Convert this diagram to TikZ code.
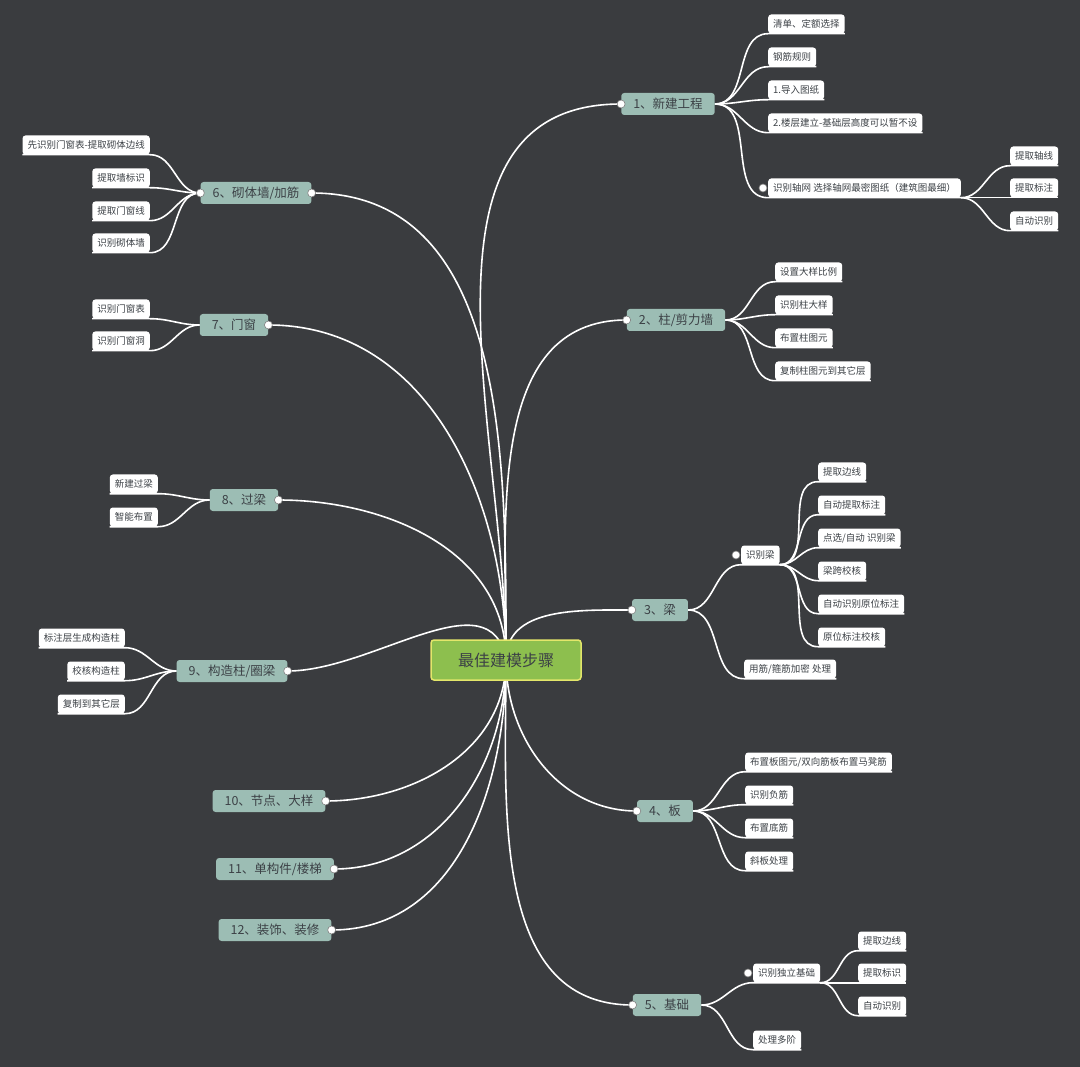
\documentclass[tikz,border=0pt]{standalone}
\usepackage{fontspec}
\setmainfont{Noto Sans CJK SC}
\usetikzlibrary{backgrounds}
\definecolor{bg}{HTML}{3A3C3F}
\definecolor{lone}{HTML}{9CBDB4}
\definecolor{rootg}{HTML}{8DBF4E}
\definecolor{rootb}{HTML}{E3E66A}
\definecolor{tx}{HTML}{3C4146}
\begin{document}
\begin{tikzpicture}[x=1pt,y=-1pt,
  root/.style={draw=rootb,line width=1.5pt,fill=rootg,rounded corners=3pt,minimum width=150pt,minimum height=40pt,font=\fontsize{16}{18}\selectfont,text=tx},
  one/.style={fill=lone,rounded corners=3pt,minimum height=22pt,inner xsep=12pt,font=\fontsize{12.5}{14}\selectfont,text=tx},
  leaf/.style={fill=white,rounded corners=3pt,minimum height=19pt,inner xsep=5pt,inner ysep=0pt,font=\fontsize{9.5}{11}\selectfont,text=tx},
  br/.style={white,line width=1.6pt},
  dot/.style={circle,fill=white,draw=gray,line width=0.6pt,inner sep=0pt,minimum size=8pt}]
\useasboundingbox (0,0) rectangle (1080,1067);
\node[root] (r) at (506,660) {最佳建模步骤};
\node[one] (n1) at (668,104) {1、新建工程};
\node[one] (n2) at (676,320) {2、柱/剪力墙};
\node[one] (n3) at (660,610) {3、梁};
\node[one] (n4) at (665,811) {4、板};
\node[one] (n5) at (667,1005) {5、基础};
\node[one] (n6) at (256,193) {6、砌体墙/加筋};
\node[one] (n7) at (234,325) {7、门窗};
\node[one] (n8) at (244,500) {8、过梁};
\node[one] (n9) at (232,671) {9、构造柱/圈梁};
\node[one] (n10) at (269,801) {10、节点、大样};
\node[one] (n11) at (275,869) {11、单构件/楼梯};
\node[one] (n12) at (275,930) {12、装饰、装修};
% right leaves
\node[leaf,anchor=west] (a1) at (768,24) {清单、定额选择};
\node[leaf,anchor=west] (a2) at (768,57) {钢筋规则};
\node[leaf,anchor=west] (a3) at (768,90) {1.导入图纸};
\node[leaf,anchor=west] (a4) at (768,123) {2.楼层建立-基础层高度可以暂不设};
\node[leaf,anchor=west] (a5) at (768,188) {识别轴网 选择轴网最密图纸（建筑图最细）};
\node[leaf,anchor=west] (a51) at (1010,156) {提取轴线};
\node[leaf,anchor=west] (a52) at (1010,188) {提取标注};
\node[leaf,anchor=west] (a53) at (1010,221) {自动识别};
\node[leaf,anchor=west] (b1) at (775,272) {设置大样比例};
\node[leaf,anchor=west] (b2) at (775,305) {识别柱大样};
\node[leaf,anchor=west] (b3) at (775,338) {布置柱图元};
\node[leaf,anchor=west] (b4) at (775,371) {复制柱图元到其它层};
\node[leaf,anchor=west] (c1) at (741,555) {识别梁};
\node[leaf,anchor=west] (c2) at (744,669) {用筋/箍筋加密 处理};
\node[leaf,anchor=west] (c11) at (818,472) {提取边线};
\node[leaf,anchor=west] (c12) at (818,505) {自动提取标注};
\node[leaf,anchor=west] (c13) at (818,538) {点选/自动 识别梁};
\node[leaf,anchor=west] (c14) at (818,571) {梁跨校核};
\node[leaf,anchor=west] (c15) at (818,604) {自动识别原位标注};
\node[leaf,anchor=west] (c16) at (818,637) {原位标注校核};
\node[leaf,anchor=west] (d1) at (745,762) {布置板图元/双向筋板布置马凳筋};
\node[leaf,anchor=west] (d2) at (745,795) {识别负筋};
\node[leaf,anchor=west] (d3) at (745,828) {布置底筋};
\node[leaf,anchor=west] (d4) at (745,861) {斜板处理};
\node[leaf,anchor=west] (e1) at (753,973) {识别独立基础};
\node[leaf,anchor=west] (e2) at (753,1040) {处理多阶};
\node[leaf,anchor=west] (e11) at (858,941) {提取边线};
\node[leaf,anchor=west] (e12) at (858,973) {提取标识};
\node[leaf,anchor=west] (e13) at (858,1006) {自动识别};
% left leaves
\node[leaf,anchor=east] (f1) at (150,145) {先识别门窗表-提取砌体边线};
\node[leaf,anchor=east] (f2) at (150,178) {提取墙标识};
\node[leaf,anchor=east] (f3) at (150,211) {提取门窗线};
\node[leaf,anchor=east] (f4) at (150,243) {识别砌体墙};
\node[leaf,anchor=east] (g1) at (150,309) {识别门窗表};
\node[leaf,anchor=east] (g2) at (150,341) {识别门窗洞};
\node[leaf,anchor=east] (h1) at (158,484) {新建过梁};
\node[leaf,anchor=east] (h2) at (158,517) {智能布置};
\node[leaf,anchor=east] (i1) at (125,638) {标注层生成构造柱};
\node[leaf,anchor=east] (i2) at (125,671) {校核构造柱};
\node[leaf,anchor=east] (i3) at (125,704) {复制到其它层};
\begin{pgfonlayer}{background}
\fill[bg] (0,0) rectangle (1080,1067);
% root connectors
\foreach \n in {n1,n2,n3} \draw[br] (r.center) to[out=90,in=180] (\n.west);
\foreach \n in {n4,n5} \draw[br] (r.center) to[out=-90,in=180] (\n.west);
\foreach \n in {n6,n7,n8} \draw[br] (r.center) to[out=90,in=0] (\n.east);
\draw[br] (r.center) to[out=100,in=0] (n9.east);
\foreach \n in {n10,n11,n12} \draw[br] (r.center) to[out=-90,in=0] (\n.east);
% right leaves
\foreach \p/\l in {n1/a1,n1/a2,n1/a3,n1/a4,n1/a5,n2/b1,n2/b2,n2/b3,n2/b4,n3/c1,n3/c2,n4/d1,n4/d2,n4/d3,n4/d4,n5/e1,n5/e2}
  \draw[br] (\p.east) to[out=0,in=180] (\l.south west) -- (\l.south east);
\foreach \p/\l in {a5/a51,a5/a52,a5/a53,c1/c11,c1/c12,c1/c13,c1/c14,c1/c15,c1/c16,e1/e11,e1/e12,e1/e13}
  \draw[br] (\p.south east) to[out=0,in=180] (\l.south west) -- (\l.south east);
\foreach \p/\l in {n6/f1,n6/f2,n6/f3,n6/f4,n7/g1,n7/g2,n8/h1,n8/h2,n9/i1,n9/i2,n9/i3}
  \draw[br] (\p.west) to[out=180,in=0] (\l.south east) -- (\l.south west);
\end{pgfonlayer}
\foreach \n in {n1,n2,n3,n4,n5} \node[dot] at (\n.west) {};
\foreach \n in {n6,n7,n8,n9,n10,n11,n12} \node[dot] at (\n.east) {};
\node[dot] at (n6.west) {};
\foreach \n in {a5,c1,e1} \node[dot] at ([xshift=-5pt]\n.west) {};
\end{tikzpicture}
\end{document}
